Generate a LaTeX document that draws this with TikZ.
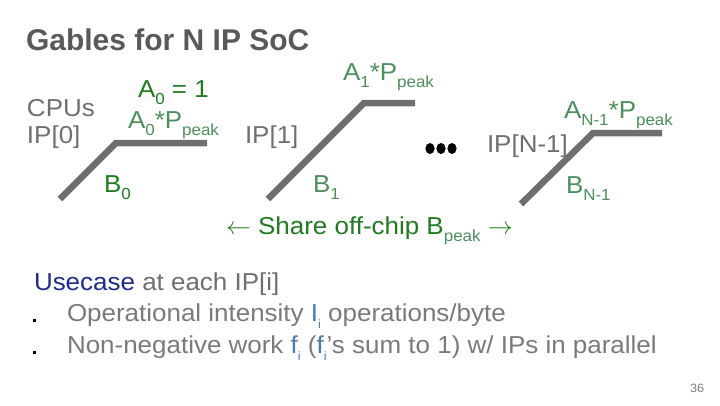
\documentclass[tikz,border=0pt]{standalone}
\usepackage{fontspec}
\setmainfont{Liberation Sans}[FakeStretch=1.06]
\newfontfamily\titlefont{Liberation Sans}
\definecolor{titlegray}{HTML}{595959}
\definecolor{txtgray}{HTML}{6F6F6F}
\definecolor{bodygray}{HTML}{7A7A7A}
\definecolor{linegray}{HTML}{6E6E6E}
\definecolor{dkgreen}{HTML}{1E7B1E}
\definecolor{ltgreen}{HTML}{4A8F5C}
\definecolor{ucblue}{HTML}{1F2A8F}
\definecolor{ltblue}{HTML}{4A78B5}
\newcommand{\lowtxt}[2]{\raisebox{-0.3em}{\fontsize{#1}{#1}\selectfont #2}}
\tikzset{
  lbl/.style={anchor=base west, inner sep=0pt, outer sep=0pt, font=\fontsize{24.5}{27}\selectfont},
  gable/.style={draw=linegray, line width=6.5pt, line join=miter},
}
\begin{document}
\begin{tikzpicture}[x=1pt,y=-1pt]
\useasboundingbox (0,0) rectangle (720,405);
% title
\node[lbl, font=\titlefont\fontsize{30}{33}\selectfont\bfseries, text=titlegray] (title) at (26,50) {Gables for N IP SoC};
% IP[0]
\node[lbl, text=txtgray] (cpus) at (27,116) {CPUs};
\node[lbl, text=txtgray] (ip0) at (27,143) {IP[0]};
\coordinate (g0a) at (60,199);
\coordinate (g0b) at (116,143);
\coordinate (g0c) at (207,143);
\draw[gable] (g0a) -- (g0b) -- (g0c);
\node[lbl, text=dkgreen] (a0eq) at (138,97) {A\lowtxt{16}{0} = 1};
\node[lbl, text=ltgreen] (a0p) at (128,128) {A\lowtxt{16}{0}*P\lowtxt{16}{peak}};
\node[lbl, text=dkgreen] (b0) at (104,192) {B\lowtxt{16}{0}};
% IP[1]
\node[lbl, text=txtgray] (ip1) at (245,143) {IP[1]};
\coordinate (g1a) at (268,199);
\coordinate (g1b) at (364,103);
\coordinate (g1c) at (415,103);
\draw[gable] (g1a) -- (g1b) -- (g1c);
\node[lbl, text=ltgreen] (a1p) at (343,80) {A\lowtxt{16}{1}*P\lowtxt{16}{peak}};
\node[lbl, text=ltgreen] (b1) at (313,192) {B\lowtxt{16}{1}};
% dots
\foreach \i/\x in {1/430,2/441,3/452}
  \fill[black] (\x,148.5) ellipse (4.6 and 5.5) coordinate (dot\i);
% IP[N-1]
\node[lbl, text=txtgray] (ipn) at (487,152) {IP[N-1]};
\coordinate (gna) at (521,204);
\coordinate (gnb) at (593,133);
\coordinate (gnc) at (662,133);
\draw[gable] (gna) -- (gnb) -- (gnc);
\node[lbl, text=ltgreen] (anp) at (564,118) {A\lowtxt{16}{N-1}*P\lowtxt{16}{peak}};
\node[lbl, text=ltgreen] (bn) at (566,193) {B\lowtxt{16}{N-1}};
% share
\node[lbl, text=dkgreen] (share) at (226,234) {$\leftarrow$ Share off-chip B\lowtxt{16}{\color{ltgreen}peak} $\rightarrow$};
% usecase
\node[lbl, text=txtgray] (uc) at (34,290) {\textcolor{ucblue}{Usecase} at each IP[i]};
\fill[black] (33,319) rectangle (35.5,321.5) coordinate (bul1);
\fill[black] (33,351) rectangle (35.5,353.5) coordinate (bul2);
\node[lbl, text=bodygray] (l1) at (67,321) {Operational intensity \textcolor{ltblue}{I\lowtxt{12}{i}} operations/byte};
\node[lbl, text=bodygray] (l2) at (67,353) {Non-negative work \textcolor{ltblue}{f\lowtxt{12}{i}} (\textcolor{ltblue}{f\lowtxt{12}{i}}’s sum to 1) w/ IPs in parallel};
\node[lbl, font=\fontsize{12}{14}\selectfont, text=bodygray] (pg) at (690,392) {36};
\end{tikzpicture}
\end{document}
